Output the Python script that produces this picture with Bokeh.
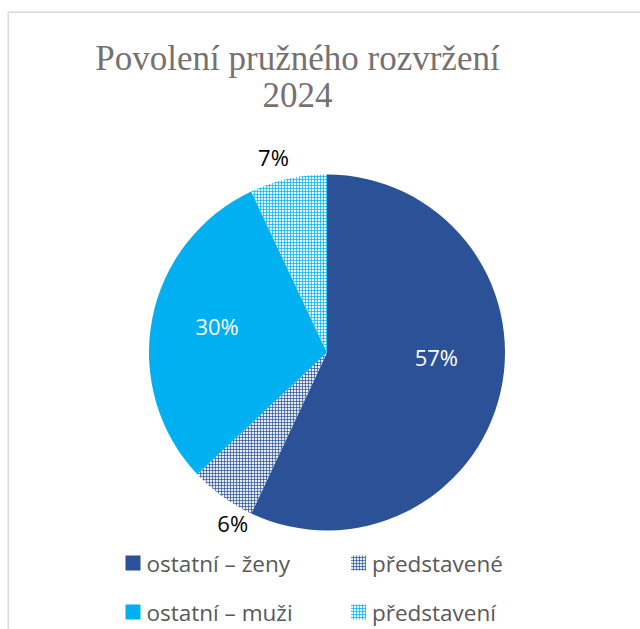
import math
from bokeh.plotting import figure
from bokeh.models import Range1d
from bokeh.core.properties import value
from bokeh.embed import file_html
from bokeh.resources import INLINE

# ---- data ----
categories = ["ostatní – ženy", "představené", "ostatní – muži", "představení"]
shares = [57, 6, 30, 7]
pct_labels = ["57%", "6%", "30%", "7%"]
title_lines = ["Povolení pružného rozvržení", "2024"]

# ---- style ----
colors = ["#2B5297", "#2B5297", "#00B0F0", "#00B0F0"]
hatch_bg = ["#2B5297", "#E6EAF3", "#00B0F0", "#E0F5FD"]
hatched = [False, True, False, True]
label_colors = ["white", "black", "white", "black"]
label_rfac = [0.615, 1.096, 0.635, 1.14]
label_dang = [0.175, 0.124, -0.047, 0.047]  # radians tweak (best-fit placement)

W, H = 640, 629
p = figure(width=W, height=H, x_range=Range1d(0, W), y_range=Range1d(0, H),
           output_backend="svg", toolbar_location=None,
           x_axis_location=None, y_axis_location=None, min_border=0)
p.grid.visible = False
p.outline_line_color = None
p.background_fill_color = "white"

def Y(py):
    return H - py

# frame
p.line(x=[7.75, 7.75, W], y=[0, Y(11.75), Y(11.75)], line_color="#D9D9D9", line_width=1.5)

cx, cy, R = 326.5, Y(352), 178
total = sum(shares)
starts, ends, mids = [], [], []
cum = 0.0
for s in shares:
    f0 = cum / total
    cum += s
    f1 = cum / total
    starts.append(math.pi / 2 - 2 * math.pi * f1)
    ends.append(math.pi / 2 - 2 * math.pi * f0)
    mids.append(math.pi / 2 - 2 * math.pi * (f0 + f1) / 2)

HATCH = dict(hatch_pattern="cross", hatch_scale=3, hatch_weight=0.7)
for i in range(len(shares)):
    if hatched[i]:
        p.wedge(x=cx, y=cy, radius=R, start_angle=starts[i], end_angle=ends[i],
                fill_color=hatch_bg[i], line_color=None, hatch_color=colors[i], **HATCH)
    else:
        p.wedge(x=cx, y=cy, radius=R, start_angle=starts[i], end_angle=ends[i],
                fill_color=colors[i], line_color=None)

# data labels
lx = [cx + R * label_rfac[i] * math.cos(mids[i] + label_dang[i]) for i in range(len(shares))]
ly = [cy + R * label_rfac[i] * math.sin(mids[i] + label_dang[i]) for i in range(len(shares))]
p.text(x=lx, y=ly, text=pct_labels, text_color=label_colors, text_align="center",
       text_baseline="middle", text_font=value("Open Sans"), text_font_size="22px")

# title
p.text(x=[297, 297], y=[Y(58), Y(94)], text=title_lines, text_color="#767171",
       text_align="center", text_baseline="middle",
       text_font=value("Liberation Serif"), text_font_size="35px")

# legend (2 columns)
col_x = [132.5, 358]
row_y = [Y(562.5), Y(611.5)]
for i, cat in enumerate(categories):
    x0 = col_x[i % 2]
    y0 = row_y[i // 2]
    if hatched[i]:
        p.rect(x=x0, y=y0, width=15, height=15, fill_color=hatch_bg[i], line_color=None,
               hatch_color=colors[i], **HATCH)
    else:
        p.rect(x=x0, y=y0, width=15, height=15, fill_color=colors[i], line_color=None)
    p.text(x=[x0 + 13.5], y=[y0], text=[cat], text_color="#595959", text_align="left",
           text_baseline="middle", text_font=value("Open Sans"), text_font_size="22.5px")

open("out.html", "w").write(file_html(p, INLINE))
